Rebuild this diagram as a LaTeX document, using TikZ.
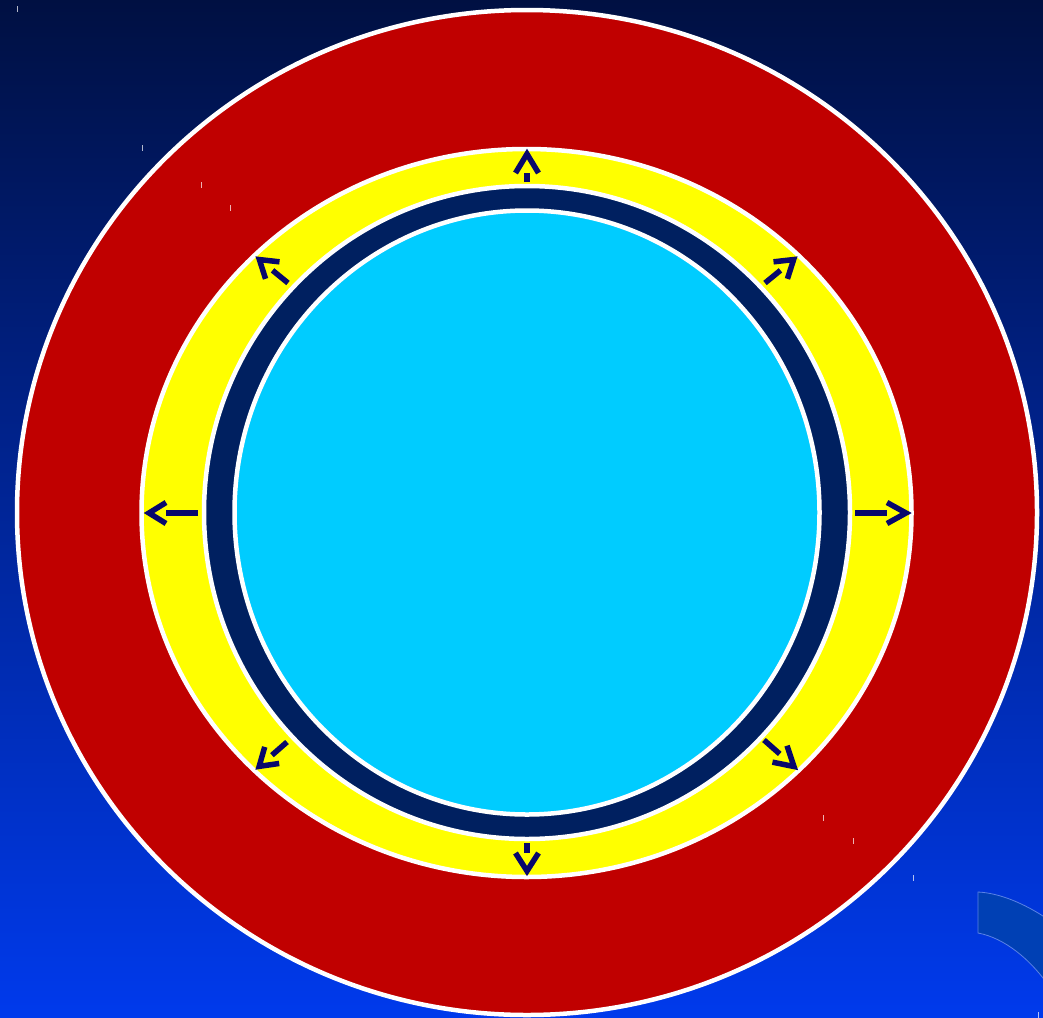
\documentclass[tikz,border=0pt]{standalone}
\usetikzlibrary{calc}
\definecolor{bgtop}{RGB}{0,16,66}
\definecolor{bgbot}{RGB}{0,58,236}
\definecolor{ringred}{RGB}{192,0,0}
\definecolor{ringyellow}{RGB}{255,255,0}
\definecolor{ringnavy}{RGB}{0,32,96}
\definecolor{corecyan}{RGB}{0,204,255}
\definecolor{arrowcol}{RGB}{8,8,108}
\definecolor{cornerfill}{RGB}{0,64,180}
\definecolor{cornerline}{RGB}{90,130,230}
\tikzset{
  ring/.style={draw=white, line width=4.5pt},
  arrowline/.style={draw=arrowcol, line width=5.5pt, line cap=butt},
  speck/.style={draw=white, opacity=0.7, line width=1pt},
}
\newcommand\burstarrow[5]{%
  \begin{scope}[shift={#1}, rotate=#2]
    \draw[arrowline] (0,0) -- (#3,0);
    \draw[arrowline, line join=miter] (#3,#5) -- (#4,0) -- (#3,-#5);
  \end{scope}}
\begin{document}
\begin{tikzpicture}[x=1pt, y=-1pt]
  \useasboundingbox (0,0) rectangle (1043,1017);
  \clip (0,0) rectangle (1043,1017);
  \shade[top color=bgtop, bottom color=bgbot] (0,0) rectangle (1043,1017);
  % corner ring segment
  \path[fill=cornerfill, draw=cornerline, line width=0.8pt]
    (978,892) .. controls (1000,893) and (1025,904) .. (1046,918)
    -- (1046,982) .. controls (1030,960) and (1005,938) .. (978,933) -- cycle;
  % rings
  \path[ring, fill=ringred] (527,512.5) ellipse [x radius=510, y radius=502.5];
  \path[ring, fill=ringyellow] (526.5,513) ellipse [x radius=385, y radius=364];
  \path[ring, fill=ringnavy] (527,512.5) ellipse [x radius=323, y radius=326.5];
  \path[ring, fill=corecyan] (527,512.5) ellipse [x radius=292.5, y radius=302];
  % arrows
  \burstarrow{(855,513)}{0}{32}{51}{10.5}
  \burstarrow{(198,513)}{180}{32}{49}{10.5}
  \burstarrow{(527,182)}{90}{9}{28}{11.5}
  \burstarrow{(527,843)}{-90}{10}{28}{11.5}
  \burstarrow{(288,283)}{140.7}{20}{37}{11}
  \burstarrow{(765,283)}{39.3}{20}{37}{11}
  \burstarrow{(287,742)}{221.2}{20}{37}{11}
  \burstarrow{(764,740)}{-41.5}{21}{40}{11}
  % specks
  \foreach \px/\py in {17/9, 142/148, 201/185, 230/208, 823/818, 853/841, 913/878, 1038/1015}
    \draw[speck] (\px,\py-3) -- (\px,\py+3);
\end{tikzpicture}
\end{document}
